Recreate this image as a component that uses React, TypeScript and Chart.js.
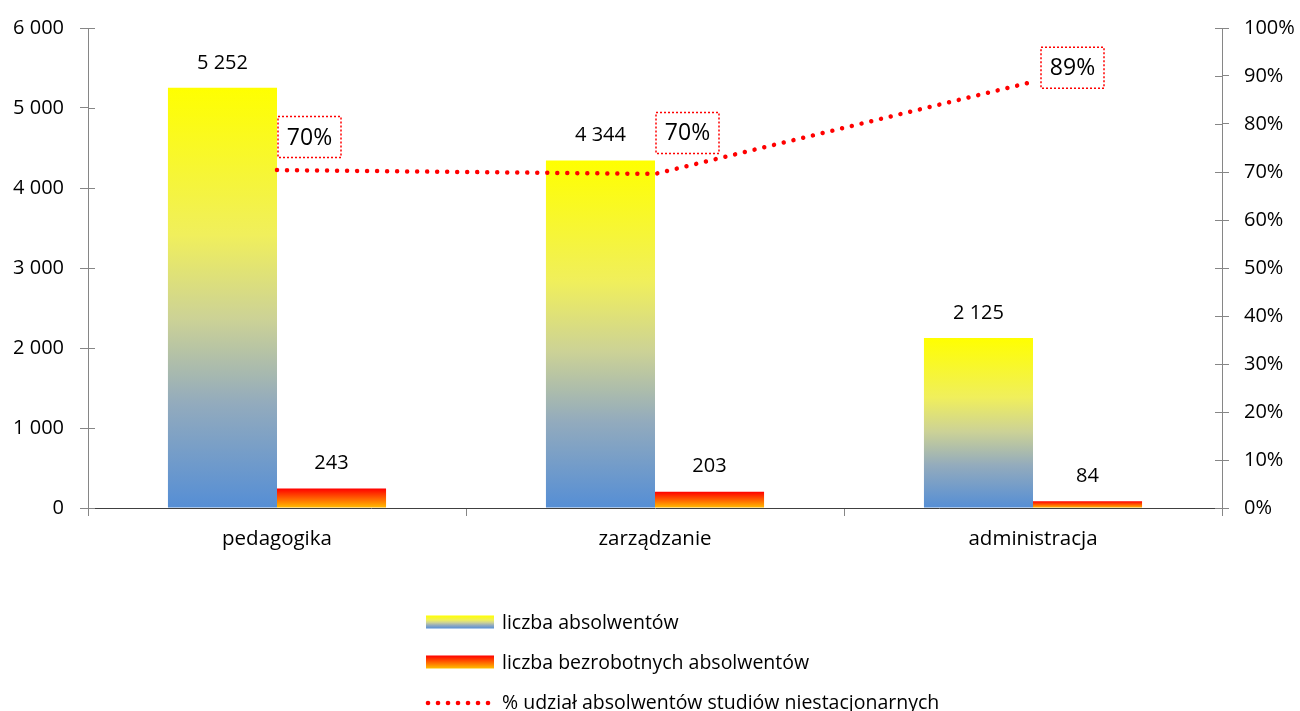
import React, { useEffect, useRef } from "react";
import { Chart, registerables } from "chart.js";

Chart.register(...registerables);

const categories = ["pedagogika", "zarządzanie", "administracja"];
const graduates = [5252, 4344, 2125];
const unemployed = [243, 203, 84];
const extramuralShare = [70.4, 69.6, 88.8];
const leftTicksMax = 6000;
const rightTicksMax = 100;
const seriesNames = [
  "liczba absolwentów",
  "liczba bezrobotnych absolwentów",
  "% udział absolwentów studiów niestacjonarnych",
];
const lineLabelOffsetsY = [-33, -41, -14];
const lineLabelOffsetsX = [1, 1, 8];

const FONT = "'Open Sans', 'Noto Sans', sans-serif";
const AXIS = "#868686";

const fmtThousands = (v: number) =>
  String(Math.round(v)).replace(/\B(?=(\d{3})+(?!\d))/g, " ");

const gradStops1: [number, string][] = [
  [0, "#FFFF00"],
  [0.35, "#F0EF5C"],
  [0.55, "#CCD296"],
  [0.75, "#93ABBD"],
  [1, "#558ED5"],
];
const gradStops2: [number, string][] = [
  [0, "#FF0000"],
  [1, "#FFC000"],
];

function barGradient(stops: [number, string][]) {
  return (ctx: any) => {
    const chart = ctx.chart;
    const scales = chart.scales;
    if (!chart.chartArea || !scales || !scales.y || ctx.dataIndex == null || ctx.raw == null) {
      return stops[0][1];
    }
    const yTop = scales.y.getPixelForValue(ctx.raw);
    const yBase = scales.y.getPixelForValue(0);
    const g = chart.ctx.createLinearGradient(0, yTop, 0, yBase);
    stops.forEach(([o, c]) => g.addColorStop(o, c));
    return g;
  };
}

const labelsPlugin = {
  id: "customLabels",
  afterDatasetsDraw(chart: any) {
    const ctx = chart.ctx;
    ctx.save();
    [0, 1].forEach((di) => {
      const meta = chart.getDatasetMeta(di);
      const ds = chart.data.datasets[di];
      meta.data.forEach((el: any, i: number) => {
        ctx.font = `20px ${FONT}`;
        ctx.fillStyle = "#000";
        ctx.textAlign = "center";
        ctx.textBaseline = "middle";
        ctx.fillText(fmtThousands(ds.data[i]), el.x, el.y - 25);
      });
    });
    const lmeta = chart.getDatasetMeta(2);
    const lds = chart.data.datasets[2];
    lmeta.data.forEach((el: any, i: number) => {
      const text = Math.round(lds.data[i]) + "%";
      ctx.font = `23px ${FONT}`;
      const bw = 63;
      const bh = 41;
      const cy = el.y + lineLabelOffsetsY[i];
      const left = el.x + lineLabelOffsetsX[i];
      ctx.fillStyle = "#fff";
      ctx.fillRect(left, cy - bh / 2, bw, bh);
      ctx.setLineDash([2, 2]);
      ctx.lineWidth = 1.5;
      ctx.strokeStyle = "#FF0000";
      ctx.strokeRect(left, cy - bh / 2, bw, bh);
      ctx.setLineDash([]);
      ctx.fillStyle = "#000";
      ctx.textAlign = "center";
      ctx.textBaseline = "middle";
      ctx.fillText(text, left + bw / 2, cy + 1);
    });
    ctx.restore();
  },
  afterDraw(chart: any) {
    const ctx = chart.ctx;
    const { y, y1 } = chart.scales;
    ctx.save();
    ctx.strokeStyle = AXIS;
    ctx.lineWidth = 1;
    y.ticks.forEach((t: any, i: number) => {
      const py = Math.round(y.getPixelForTick(i)) + 0.5;
      ctx.beginPath();
      ctx.moveTo(y.right, py);
      ctx.lineTo(y.right + 7, py);
      ctx.stroke();
    });
    y1.ticks.forEach((t: any, i: number) => {
      const py = Math.round(y1.getPixelForTick(i)) + 0.5;
      ctx.beginPath();
      ctx.moveTo(y1.left - 7, py);
      ctx.lineTo(y1.left, py);
      ctx.stroke();
    });
    const lx = 426;
    const rows = [622, 662, 702];
    const sw = 68;
    const sh = 13;
    const stopsList = [gradStops1, gradStops2];
    stopsList.forEach((stops, i) => {
      const cy = rows[i];
      const g = ctx.createLinearGradient(0, cy - sh / 2, 0, cy + sh / 2);
      stops.forEach(([o, c]) => g.addColorStop(o, c));
      ctx.fillStyle = g;
      ctx.fillRect(lx, cy - sh / 2, sw, sh);
    });
    ctx.fillStyle = "#FF0000";
    for (let k = 0; k < 7; k++) {
      ctx.beginPath();
      ctx.arc(lx + 2 + k * 10, rows[2] + 1, 2.3, 0, Math.PI * 2);
      ctx.fill();
    }
    ctx.font = `19.5px ${FONT}`;
    ctx.fillStyle = "#000";
    ctx.textAlign = "left";
    ctx.textBaseline = "middle";
    seriesNames.forEach((n, i) => {
      ctx.fillText(n, 502, rows[i] + 1);
    });
    ctx.restore();
  },
};

export default function App() {
  const canvasRef = useRef<HTMLCanvasElement | null>(null);

  useEffect(() => {
    document.body.style.margin = "0";
    const canvas = canvasRef.current;
    if (!canvas) return;
    const chart = new Chart(canvas, {
      type: "bar",
      data: {
        labels: categories,
        datasets: [
          {
            type: "bar",
            label: seriesNames[0],
            data: graduates,
            backgroundColor: barGradient(gradStops1),
            borderWidth: 0,
            yAxisID: "y",
            order: 2,
          },
          {
            type: "bar",
            label: seriesNames[1],
            data: unemployed,
            backgroundColor: barGradient(gradStops2),
            borderWidth: 0,
            yAxisID: "y",
            order: 2,
          },
          {
            type: "line",
            label: seriesNames[2],
            data: extramuralShare,
            borderColor: "#FF0000",
            borderWidth: 4.5,
            borderDash: [0.01, 10],
            borderCapStyle: "round",
            pointRadius: 0,
            pointHoverRadius: 0,
            fill: false,
            tension: 0,
            yAxisID: "y1",
            order: 1,
          } as any,
        ],
      },
      options: {
        responsive: false,
        animation: false,
        maintainAspectRatio: false,
        layout: { padding: { top: 28, left: 0, right: 0, bottom: 0 } },
        datasets: {
          bar: { categoryPercentage: 0.577, barPercentage: 1 },
        },
        plugins: {
          legend: { display: false },
          tooltip: { enabled: false },
        },
        scales: {
          x: {
            grid: {
              display: true,
              drawOnChartArea: false,
              drawTicks: true,
              tickLength: 8,
              color: AXIS,
              offset: true,
            },
            border: { display: true, color: "#404040", width: 1 },
            ticks: {
              font: { family: FONT, size: 20.5 },
              color: "#000",
              padding: 11,
              maxRotation: 0,
            },
            afterFit(scale: any) {
              scale.height = 203;
            },
          },
          y: {
            position: "left",
            min: 0,
            max: leftTicksMax,
            grid: {
              display: true,
              drawOnChartArea: false,
              drawTicks: true,
              tickLength: 8,
              color: AXIS,
            },
            border: { display: true, color: AXIS },
            ticks: {
              stepSize: 1000,
              font: { family: FONT, size: 20 },
              color: "#000",
              padding: 16,
              callback: (v: any) => fmtThousands(Number(v)),
            },
            afterFit(scale: any) {
              scale.width = 88;
            },
          },
          y1: {
            position: "right",
            min: 0,
            max: rightTicksMax,
            grid: {
              display: true,
              drawOnChartArea: false,
              drawTicks: true,
              tickLength: 7,
              color: AXIS,
            },
            border: { display: true, color: AXIS },
            ticks: {
              stepSize: 10,
              font: { family: FONT, size: 20 },
              color: "#000",
              padding: 15,
              callback: (v: any) => v + "%",
            },
            afterFit(scale: any) {
              scale.width = 78;
            },
          },
        },
      } as any,
      plugins: [labelsPlugin],
    });
    return () => chart.destroy();
  }, []);

  return (
    <div style={{ position: "fixed", left: 0, top: 0, width: 1300, height: 711, background: "#fff" }}>
      <canvas ref={canvasRef} width={1300} height={711} style={{ width: 1300, height: 711, display: "block" }} />
    </div>
  );
}
